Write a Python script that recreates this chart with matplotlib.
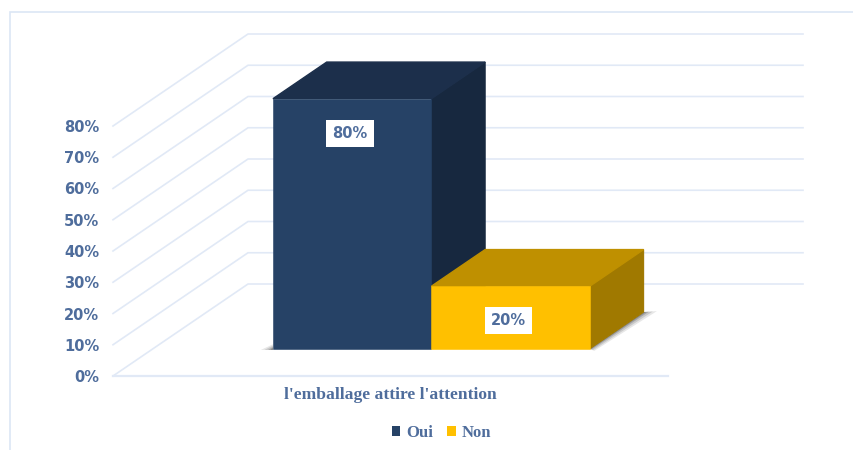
import matplotlib
matplotlib.use("Agg")
import matplotlib.pyplot as plt
from matplotlib.patches import Polygon, Rectangle

categories = ["l'emballage attire l'attention"]
series_names = ["Oui", "Non"]
series_values = [80, 20]
y_ticks = [0, 10, 20, 30, 40, 50, 60, 70, 80]
front_colors = ["#264266", "#FFC000"]
top_colors = ["#1C2F4B", "#BF9000"]
side_colors = ["#17283F", "#A07900"]

W, H = 854, 450
TEXT = "#4F6D9C"
GRID = "#E1E9F6"

fig = plt.figure(figsize=(W / 100, H / 100), dpi=100, facecolor="white")
ax = fig.add_axes([113 / W, 1 - 376 / H, 555 / W, 250 / H])
ax.set_xlim(0, 1)
ax.set_ylim(0, 80)
ax.patch.set_visible(False)
for s in ax.spines.values():
    s.set_visible(False)

# oblique projection of the 3D box: depth 0 = front of the floor, depth 1 = back wall
DX = 135 / 555
DY = 92 / 250 * 80


def proj(x, y, d):
    return (x + d * DX, y + d * DY)


# chart border (top and left only are inside the picture)
fig.add_artist(Rectangle((10 / W, -0.1), 1.1, 1.1 - 12 / H,
                         transform=fig.transFigure, fill=False,
                         edgecolor="#DCE6F5", lw=1.2))

# gridlines
for v in y_ticks:
    ax.plot(*zip(proj(0, v, 0), proj(0, v, 1), proj(1, v, 1)),
            color=GRID, lw=1.2, clip_on=False, zorder=1)
ax.plot(*zip(proj(0, 0, 0), proj(1, 0, 0)), color=GRID, lw=1.6, clip_on=False, zorder=1)

# bars
BAR_W = 0.2855
D0, D1 = 0.297, 0.695
n = len(series_values)
left0 = 0.5015 - BAR_W * n / 2

# soft shadows
x_end = left0 + n * BAR_W
for grow, alpha in [(1.0, 0.14), (0.7, 0.2), (0.4, 0.3), (0.2, 0.4)]:
    ax.add_patch(Polygon([proj(x_end, 0, D0), proj(x_end, 0, D1),
                          proj(x_end + 0.024 * grow, 0.3 * grow, D1),
                          proj(x_end + 0.008 * grow, -0.7 * grow, D0)],
                         closed=True, fc="#555555", ec="none", alpha=alpha,
                         clip_on=False, zorder=2))
    ax.add_patch(Polygon([proj(left0, -0.4, D0), proj(left0, 1.4 * grow, D0),
                          proj(left0 - 0.022 * grow, -0.4, D0)],
                         closed=True, fc="#555555", ec="none", alpha=alpha,
                         clip_on=False, zorder=2))

for i, (name, val) in enumerate(zip(series_names, series_values)):
    x0 = left0 + i * BAR_W
    x1 = x0 + BAR_W
    z = 3 + i
    ax.add_patch(Polygon([proj(x1, 0, D0), proj(x1, 0, D1), proj(x1, val, D1), proj(x1, val, D0)],
                         closed=True, fc=side_colors[i], ec=side_colors[i], lw=0.8,
                         clip_on=False, zorder=z))
    ax.add_patch(Polygon([proj(x0, val, D0), proj(x1, val, D0), proj(x1, val, D1), proj(x0, val, D1)],
                         closed=True, fc=top_colors[i], ec=top_colors[i], lw=1.0,
                         clip_on=False, zorder=z + 0.2))
    ax.add_patch(Polygon([proj(x0, 0, D0), proj(x1, 0, D0), proj(x1, val, D0), proj(x0, val, D0)],
                         closed=True, fc=front_colors[i], ec=front_colors[i], lw=0.4,
                         clip_on=False, zorder=z + 0.5))

# data labels
label_fracs = [0.86, 0.45]
label_shift = -0.004
for i, val in enumerate(series_values):
    lx, ly = proj(left0 + (i + 0.5) * BAR_W + label_shift, 0, D0)
    ax.text(lx, ly + val * label_fracs[i], f"{val}%", ha="center", va="center",
            fontsize=10.5, fontweight="bold", family="DejaVu Sans", color=TEXT, zorder=8,
            bbox=dict(boxstyle="square,pad=0.42", fc="white", ec="none"))

# axis ticks
ax.set_yticks(y_ticks)
ax.set_yticklabels([f"{v}%" for v in y_ticks], fontsize=10.5, fontweight="bold",
                   family="DejaVu Sans", color=TEXT)
ax.set_xticks([0.5])
ax.set_xticklabels(categories, fontsize=12.6, fontweight="bold",
                   family="Liberation Serif", color=TEXT)
ax.tick_params(axis="y", length=0, pad=10)
ax.tick_params(axis="x", length=0, pad=8)

# legend
handles = [Rectangle((0, 0), 1, 1, fc=c, ec="none") for c in front_colors]
fig.legend(handles, series_names, loc="center", bbox_to_anchor=(441.5 / W, 1 - 433 / H),
           ncol=2, frameon=False, handlelength=0.5, handleheight=0.5, handletextpad=0.35,
           columnspacing=0.85, labelcolor=TEXT,
           prop={"family": "Liberation Serif", "weight": "bold", "size": 12})

fig.savefig("out.png", dpi=100, facecolor="white")
